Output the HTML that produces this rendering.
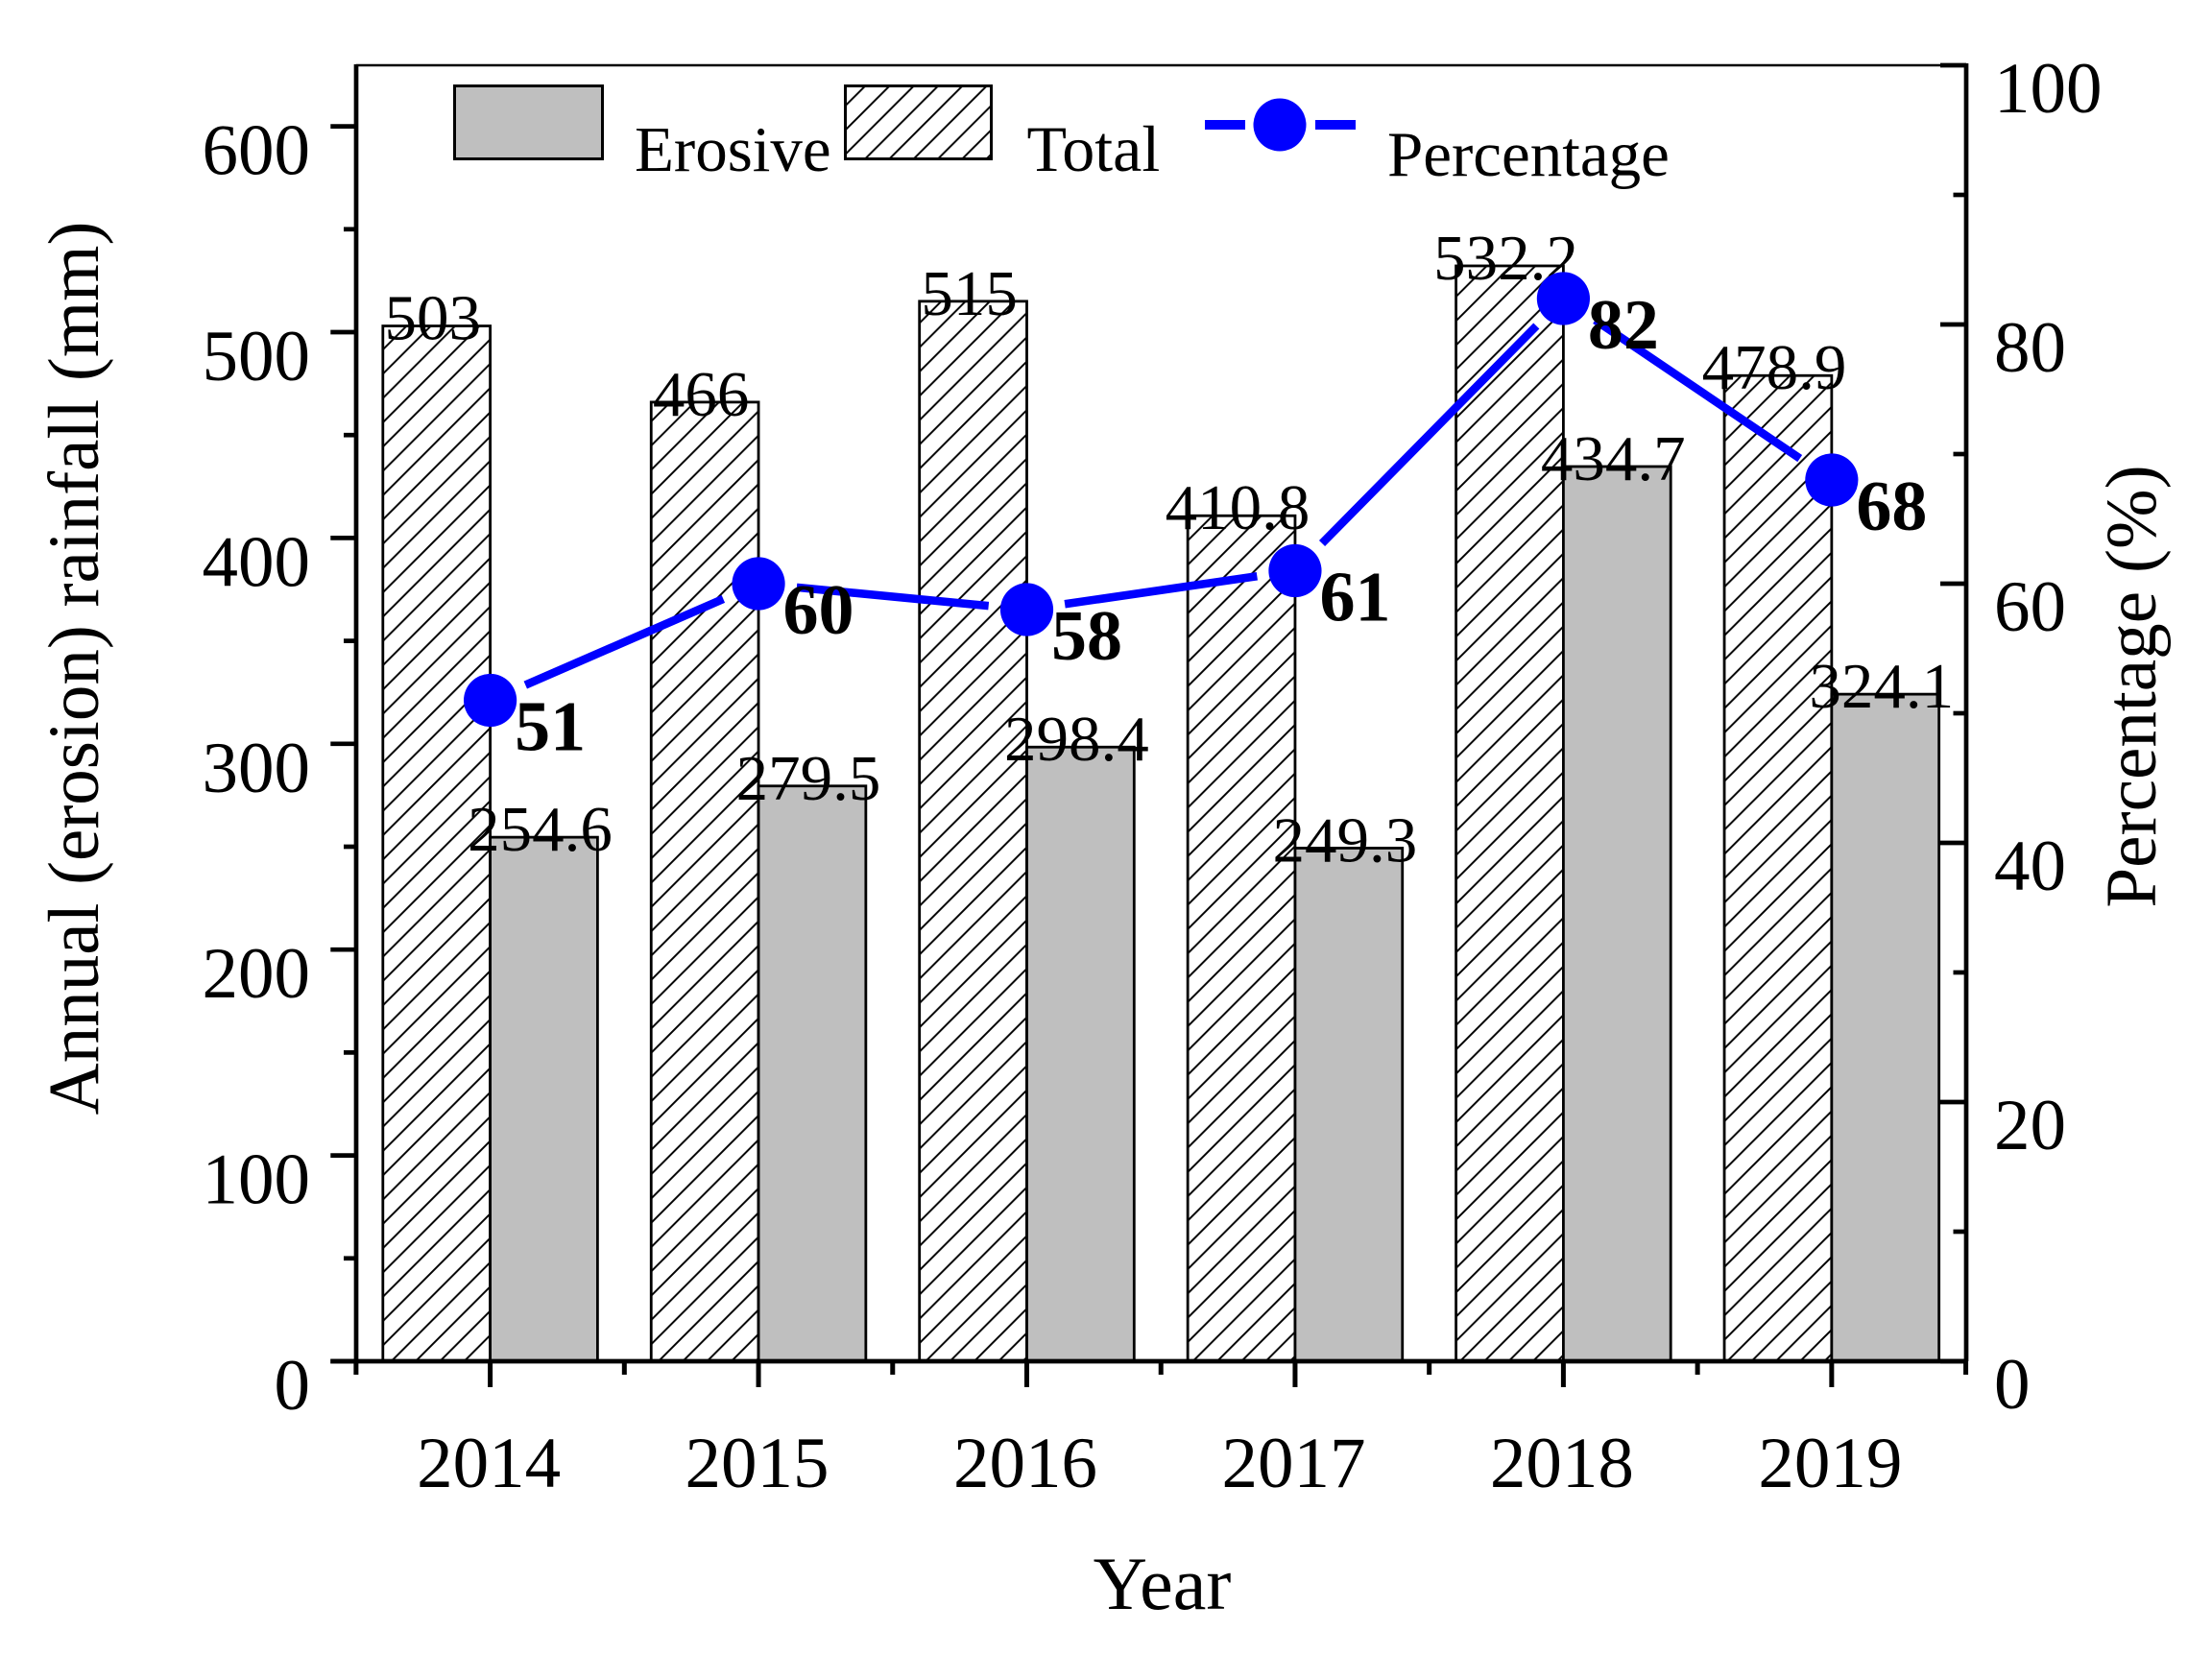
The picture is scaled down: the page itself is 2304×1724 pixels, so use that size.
<!DOCTYPE html>
<html lang="en">
<head>
<meta charset="utf-8">
<title>Annual rainfall chart</title>
<style>
html,body{margin:0;padding:0;background:#fff;width:2304px;height:1724px;overflow:hidden}
svg{display:block}
text{font-family:"Liberation Serif",serif;fill:#000}
</style>
</head>
<body>
<svg id="chart" xmlns="http://www.w3.org/2000/svg" width="2304" height="1724" viewBox="0 0 2304 1724">
  <defs>
    <pattern id="hatch" patternUnits="userSpaceOnUse" width="25.3" height="25.3" patternTransform="translate(4,0)">
      <rect width="25.3" height="25.3" fill="#fff"></rect>
      <path d="M-2,27.3 L27.3,-2 M-2,2 L2,-2 M23.3,27.3 L27.3,23.3" stroke="#000" stroke-width="2" fill="none"></path>
    </pattern>
  </defs>
  <rect x="0" y="0" width="2304" height="1724" fill="#fff"></rect>
  <g id="bars"></g>
  <g id="barLabels"></g>
  <g id="axes"></g>
  <g id="line"></g>
  <g id="pctLabels"></g>

  <g>
    <rect x="473.5" y="89.5" width="154" height="76" fill="#bfbfbf" stroke="#000" stroke-width="3"></rect>
    <text x="661" y="178" font-size="67">Erosive</text>
    <rect x="880.5" y="89.5" width="152" height="76" fill="url(#hatch)" stroke="#000" stroke-width="3"></rect>
    <text x="1069.5" y="178" font-size="68">Total</text>
    <rect x="1255" y="125" width="42" height="10" fill="#0000ff"></rect>
    <rect x="1370" y="125" width="42" height="10" fill="#0000ff"></rect>
    <circle cx="1333" cy="130" r="27.5" fill="#0000ff"></circle>
    <text x="1445" y="183" font-size="67">Percentage</text>
  </g>

  <text x="1210.5" y="1676" font-size="78" text-anchor="middle">Year</text>
  <text transform="translate(102,696) rotate(-90)" font-size="75" text-anchor="middle">Annual (erosion) rainfall (mm)</text>
  <text transform="translate(2245,715) rotate(-90)" font-size="75.2" text-anchor="middle">Percentage (%)</text>
</svg>

<script>
const categories = ['2014', '2015', '2016', '2017', '2018', '2019'];
const totalRainfall = [503, 466, 515, 410.8, 532.2, 478.9];
const erosiveRainfall = [254.6, 279.5, 298.4, 249.3, 434.7, 324.1];
const percentage = [51, 60, 58, 61, 82, 68];
const leftTicks = [0, 100, 200, 300, 400, 500, 600];
const leftMinorTicks = [50, 150, 250, 350, 450, 550];
const rightTicks = [0, 20, 40, 60, 80, 100];
const rightMinorTicks = [10, 30, 50, 70, 90];

const NS = 'http://www.w3.org/2000/svg';
const plot = { left: 371, right: 2048, top: 68, bottom: 1418 };
const xStep = 279.45;
const barW = 111.8;

function xPos(i) { return 510.6 + xStep * i; }
function yLeft(v) { return plot.bottom - v * 2.144; }
function yRight(p) { return plot.bottom - p * 13.5; }

function mk(tag, parent, props, text) {
  const el = document.createElementNS(NS, tag);
  for (const k in props) el.setAttribute(k, props[k]);
  if (text !== undefined) el.textContent = text;
  parent.appendChild(el);
  return el;
}

const gBars = document.getElementById('bars');
const gBarLabels = document.getElementById('barLabels');
const gAxes = document.getElementById('axes');
const gLine = document.getElementById('line');
const gPct = document.getElementById('pctLabels');

categories.forEach(function (cat, i) {
  const cx = xPos(i);

  const tTop = yLeft(totalRainfall[i]);
  const tBar = mk('rect', gBars, { x: cx - barW, y: tTop, width: barW, height: plot.bottom - tTop, fill: 'url(#hatch)', stroke: '#000', 'stroke-width': 2.8 });
  
  

  const eTop = yLeft(erosiveRainfall[i]);
  const eBar = mk('rect', gBars, { x: cx, y: eTop, width: barW, height: plot.bottom - eTop, fill: '#bfbfbf', stroke: '#000', 'stroke-width': 2.8 });
  
  

  const tLab = mk('text', gBarLabels, { x: cx - barW / 2 - 4, y: tTop + 14, 'font-size': 67, 'text-anchor': 'middle' }, String(totalRainfall[i]));
  
  

  const eLab = mk('text', gBarLabels, { x: cx + barW / 2 - 4, y: eTop + 14, 'font-size': 67, 'text-anchor': 'middle' }, String(erosiveRainfall[i]));
  
  

  const xLab = mk('text', gAxes, { x: cx - 1.5, y: 1549, 'font-size': 75, 'text-anchor': 'middle' }, cat);
  
  

  const xTick = mk('line', gAxes, { x1: cx, x2: cx, y1: plot.bottom, y2: plot.bottom + 27, stroke: '#000', 'stroke-width': 5 });
  
  
});

for (let i = -0.5; i <= categories.length - 0.5; i += 1) {
  const mx = xPos(i);
  const minor = mk('line', gAxes, { x1: mx, x2: mx, y1: plot.bottom, y2: plot.bottom + 14, stroke: '#000', 'stroke-width': 5 });
  
  
}

const topLine = mk('line', gAxes, { x1: plot.left, x2: plot.right, y1: plot.top, y2: plot.top, stroke: '#000', 'stroke-width': 2.4 });



const leftAxis = mk('line', gAxes, { x1: plot.left, x2: plot.left, y1: plot.top - 1, y2: plot.bottom, stroke: '#000', 'stroke-width': 4.7 });



const rightAxis = mk('line', gAxes, { x1: plot.right, x2: plot.right, y1: plot.top - 2, y2: plot.bottom, stroke: '#000', 'stroke-width': 4.7 });



const bottomAxis = mk('line', gAxes, { x1: 344.3, x2: plot.right + 2, y1: plot.bottom, y2: plot.bottom, stroke: '#000', 'stroke-width': 4.7 });



leftTicks.forEach(function (v) {
  const y = yLeft(v);
  const t = mk('line', gAxes, { x1: 344.3, x2: plot.left, y1: y, y2: y, stroke: '#000', 'stroke-width': 4.7 });
  
  
  const l = mk('text', gAxes, { x: 323, y: y + 50, 'font-size': 75, 'text-anchor': 'end' }, String(v));
  
  
});

leftMinorTicks.forEach(function (v) {
  const y = yLeft(v);
  const t = mk('line', gAxes, { x1: 358, x2: plot.left, y1: y, y2: y, stroke: '#000', 'stroke-width': 4.7 });
  
  
});

rightTicks.forEach(function (v) {
  const y = yRight(v);
  const t = mk('line', gAxes, { x1: plot.right - 27, x2: plot.right, y1: y, y2: y, stroke: '#000', 'stroke-width': 4.7 });
  
  
  const l = mk('text', gAxes, { x: 2077, y: y + 49, 'font-size': 75 }, String(v));
  
  
});

rightMinorTicks.forEach(function (v) {
  const y = yRight(v);
  const t = mk('line', gAxes, { x1: plot.right - 13.5, x2: plot.right, y1: y, y2: y, stroke: '#000', 'stroke-width': 4.7 });
  
  
});

const gap = 40;
percentage.forEach(function (p, i) {
  const x = xPos(i);
  const y = yRight(p);
  if (i < percentage.length - 1) {
    const x2 = xPos(i + 1);
    const y2 = yRight(percentage[i + 1]);
    const len = Math.hypot(x2 - x, y2 - y);
    const ux = (x2 - x) / len;
    const uy = (y2 - y) / len;
    const seg = mk('line', gLine, { x1: x + ux * gap, y1: y + uy * gap, x2: x2 - ux * gap, y2: y2 - uy * gap, stroke: '#0000ff', 'stroke-width': 8.6 });
    
    
  }
  const dot = mk('circle', gLine, { cx: x, cy: y, r: 27.6, fill: '#0000ff' });
  
  
  const lab = mk('text', gPct, { x: x + 25.5, y: y + 52, 'font-size': 74, 'font-weight': 'bold' }, String(p));
  
  
});
</script>
</body>
</html>
